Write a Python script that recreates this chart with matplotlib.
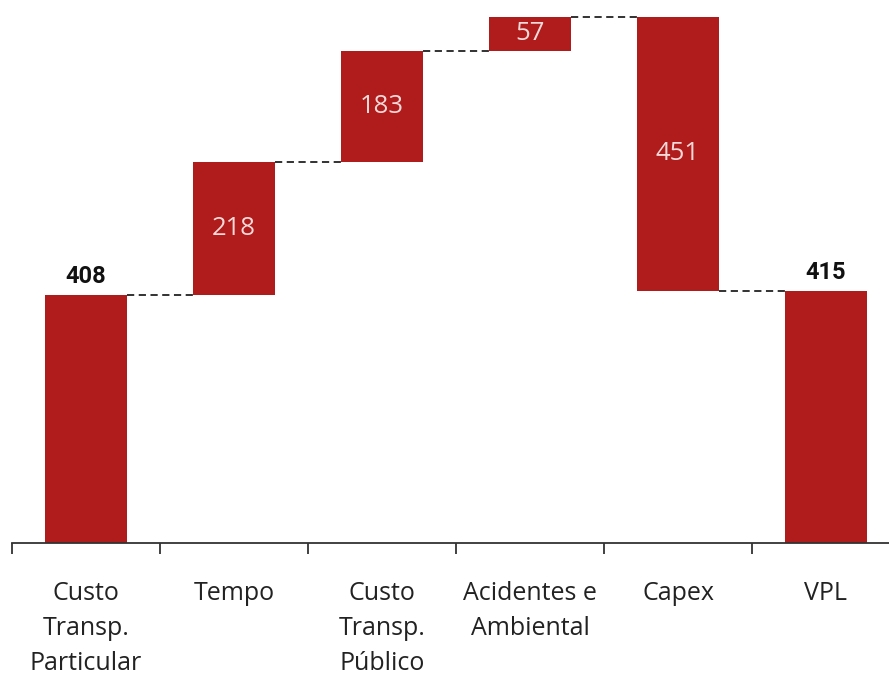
import numpy as np
import matplotlib.pyplot as plt

# dados do gráfico de cascata (VPL)
categorias = ['Custo\nTransp.\nParticular', 'Tempo', 'Custo\nTransp.\nPúblico',
              'Acidentes e\nAmbiental', 'Capex', 'VPL']
variacoes = [408, 218, 183, 57, -451]
total_final = 415

cor_barra = '#B01B1B'
plt.rcParams['font.family'] = ['Open Sans', 'DejaVu Sans']

# base e altura de cada barra
bases = []
alturas = []
acumulado = 0
for i, v in enumerate(variacoes):
    if i == 0:
        bases.append(0)
        alturas.append(v)
    else:
        bases.append(min(acumulado, acumulado + v))
        alturas.append(abs(v))
    acumulado += v
bases.append(0)
alturas.append(total_final)

fig = plt.figure(figsize=(8.89, 6.75), dpi=100)
ax = fig.add_axes([12 / 889, 132 / 675, 888 / 889, 535 / 675])

x = np.arange(len(categorias))
largura = 0.55
ax.bar(x, alturas, bottom=bases, width=largura, color=cor_barra, zorder=2)

# linhas tracejadas ligando as barras
acumulado = 0
for i, v in enumerate(variacoes):
    acumulado += v
    ax.plot([x[i] + largura / 2, x[i + 1] - largura / 2], [acumulado, acumulado],
            color='#222222', linestyle=(0, (4, 2.5)), linewidth=1.3, zorder=1)

# rótulos dos valores
for i in range(len(categorias)):
    if i == 0 or i == len(categorias) - 1:
        ax.text(x[i], bases[i] + alturas[i] + 20, str(alturas[i]), ha='center', va='baseline',
                fontsize=17, fontweight='bold', color='#111111', family=['Roboto', 'DejaVu Sans'])
    else:
        ax.text(x[i], bases[i] + alturas[i] / 2, str(alturas[i]), ha='center', va='center',
                fontsize=18.5, color='#F6DADA')

ax.set_xlim(-0.5, 5.5)
ax.set_ylim(0, 880)
ax.set_yticks([])
for lado in ['top', 'right', 'left']:
    ax.spines[lado].set_visible(False)
ax.spines['bottom'].set_color('#333333')
ax.spines['bottom'].set_linewidth(1.3)

ax.set_xticks(np.arange(-0.5, 5.6, 1.0))
ax.set_xticklabels([])
ax.tick_params(axis='x', direction='out', length=8, width=1.3, color='#333333')
ax.set_xticks(x, minor=True)
ax.set_xticklabels(categorias, minor=True, fontsize=18, color='#222222', linespacing=1.55)
ax.tick_params(axis='x', which='minor', length=0, pad=27)

fig.savefig('out.png', dpi=100)
